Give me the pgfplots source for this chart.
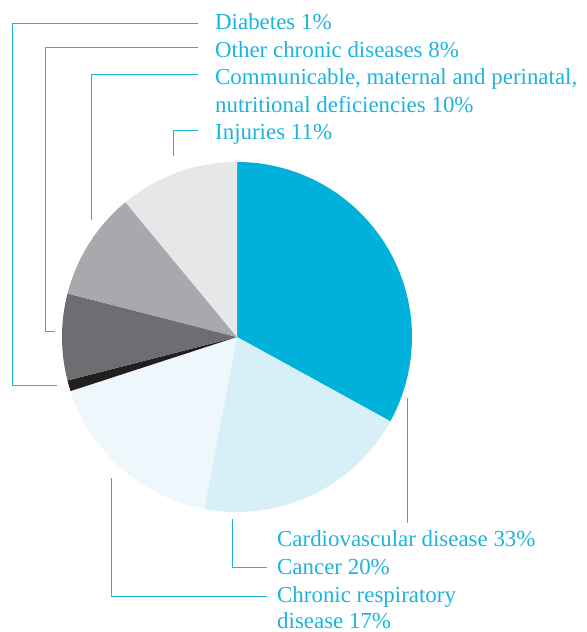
\documentclass[border=0pt]{standalone}
\usepackage{pgfplots}
\usepackage{pgfplotstable}
\pgfplotsset{compat=1.18}
\usepackage{fontspec}
\setmainfont{Liberation Serif}

\definecolor{cCardio}{HTML}{00B1DC}
\definecolor{cCancer}{HTML}{D7EFF7}
\definecolor{cResp}{HTML}{EEF7FB}
\definecolor{cDiab}{HTML}{231F20}
\definecolor{cOther}{HTML}{6D6E71}
\definecolor{cComm}{HTML}{A7A9AC}
\definecolor{cInj}{HTML}{E6E7E8}
\definecolor{cText}{HTML}{1CB3DE}

% share of deaths (%), clockwise from twelve o'clock
\pgfplotstableread[col sep=comma]{
share,colour
33,cCardio
20,cCancer
17,cResp
1,cDiab
8,cOther
10,cComm
11,cInj
}\piedata

\begin{document}
\begin{tikzpicture}
\begin{axis}[
  name=pie,
  scale only axis, width=587bp, height=632bp,
  xmin=0, xmax=587, ymin=0, ymax=632,
  hide axis, clip=false,
]
\pgfplotsextra{
  \pgfplotstablegetrowsof{\piedata}
  \pgfmathtruncatemacro\nlast{\pgfplotsretval-1}
  \foreach \i [remember=\e as \s (initially 90)] in {0,...,\nlast}{
    \pgfplotstablegetelem{\i}{share}\of\piedata
    \let\v\pgfplotsretval
    \pgfplotstablegetelem{\i}{colour}\of\piedata
    \let\c\pgfplotsretval
    \pgfmathsetmacro\e{\s-3.6*\v}
    \fill[fill=\c] (axis cs:237,295) -- plot[domain=\s:\e, samples=80, variable=\t]
      (axis cs:{237+175*cos(\t)},{295+175*sin(\t)}) -- cycle;
  }
}
% leader lines
\draw[cText, line width=1bp]
  (axis cs:198,608) -- (axis cs:12,608) -- (axis cs:12,246) -- (axis cs:57,246)
  (axis cs:198,584) -- (axis cs:45,584) -- (axis cs:45,300) -- (axis cs:55,300)
  (axis cs:198,557) -- (axis cs:91,557) -- (axis cs:91,412)
  (axis cs:198,501) -- (axis cs:173,501) -- (axis cs:173,476)
  (axis cs:407,234) -- (axis cs:407,109)
  (axis cs:232,113) -- (axis cs:232,64) -- (axis cs:267,64)
  (axis cs:111,154) -- (axis cs:111,35) -- (axis cs:267,35);
% labels
\begin{scope}[every node/.style={anchor=base west, inner sep=0pt, text=cText, font=\fontsize{23}{27}\selectfont}]
\node at (axis cs:215,602) {Diabetes 1\%};
\node at (axis cs:215,574) {Other chronic diseases 8\%};
\node at (axis cs:215,547) {Communicable, maternal and perinatal,};
\node at (axis cs:215,519) {nutritional deficiencies 10\%};
\node at (axis cs:215,492) {Injuries 11\%};
\node at (axis cs:277,85) {Cardiovascular disease 33\%};
\node at (axis cs:277,57) {Cancer 20\%};
\node at (axis cs:277,30) {Chronic respiratory};
\node at (axis cs:277,4) {disease 17\%};
\end{scope}
\end{axis}
\pgfresetboundingbox
\path[use as bounding box] (pie.south west) rectangle (pie.north east);
\end{tikzpicture}
\end{document}
